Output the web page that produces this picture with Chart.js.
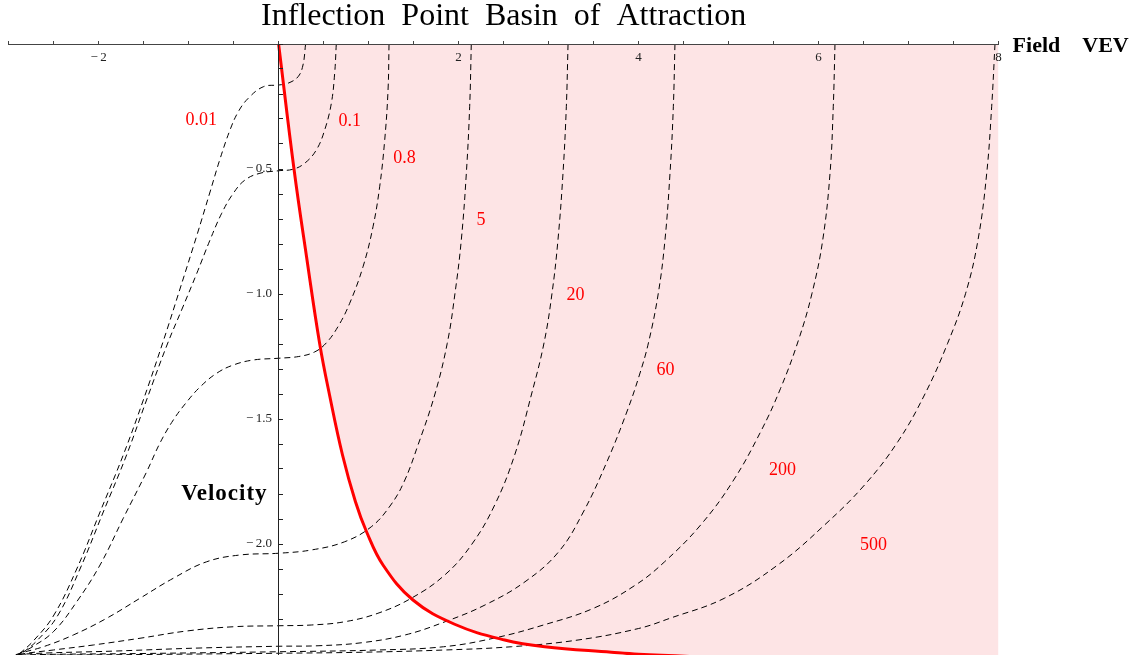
<!DOCTYPE html>
<html lang="en">
<head>
<meta charset="UTF-8">
<title>Inflection Point Basin of Attraction</title>
<script src="https://cdn.jsdelivr.net/npm/chart.js"></script>
<style>
  html, body { margin: 0; padding: 0; background: #fff; }
  .plot { width: 1130px; height: 655px; position: relative; }
</style>
</head>
<body>
<div class="plot"><canvas id="basin"></canvas></div>
<script>
// axis ranges
const fieldMin = -3, fieldMax = 8;
const velMin = -2.444, velMax = 0;

// basin boundary (red curve)
const boundaryField = [0, 0.171, 0.31, 0.457, 0.566, 0.71, 0.854, 0.977, 1.16, 1.493, 1.956, 2.512, 2.957, 3.697, 4.0, 4.6, 5.5, 8];
const boundaryVel   = [0, -0.5, -0.85, -1.2, -1.404, -1.644, -1.831, -1.951, -2.084, -2.224, -2.321, -2.384, -2.411, -2.433, -2.441, -2.45, -2.46, -2.47];

// trajectories
const field001 = [0.30, 0.271, 0.216, 0.104, 0, -0.17, -0.337, -0.448, -0.54, -0.651, -0.762, -0.907, -1.096, -1.281, -1.503, -1.726, -1.984, -2.243, -2.503, -2.726, -2.873, -2.962];
const vel001   = [0, -0.084, -0.131, -0.157, -0.164, -0.171, -0.217, -0.271, -0.344, -0.46, -0.592, -0.764, -0.98, -1.188, -1.424, -1.644, -1.872, -2.1, -2.288, -2.388, -2.437, -2.464];

const field01 = [0.641, 0.623, 0.586, 0.512, 0.419, 0.29, 0.16, 0, -0.207, -0.373, -0.503, -0.632, -0.762, -0.912, -1.073, -1.24, -1.467, -1.689, -1.948, -2.207, -2.457, -2.688, -2.851, -2.951];
const vel01   = [0, -0.117, -0.237, -0.344, -0.424, -0.477, -0.501, -0.507, -0.517, -0.544, -0.597, -0.677, -0.784, -0.92, -1.06, -1.204, -1.424, -1.644, -1.872, -2.1, -2.288, -2.388, -2.437, -2.464];

const field08 = [1.227, 1.216, 1.179, 1.123, 1.049, 0.938, 0.79, 0.664, 0.529, 0.399, 0.224, 0, -0.281, -0.503, -0.688, -0.873, -1.021, -1.17, -1.318, -1.466, -1.726, -1.984, -2.243, -2.503, -2.762, -2.873, -2.962];
const vel08   = [0, -0.184, -0.384, -0.571, -0.731, -0.891, -1.037, -1.128, -1.196, -1.232, -1.25, -1.257, -1.264, -1.284, -1.317, -1.372, -1.432, -1.504, -1.596, -1.711, -1.897, -2.084, -2.231, -2.351, -2.417, -2.437, -2.464];

const field5 = [2.141, 2.123, 2.086, 2.03, 1.96, 1.874, 1.734, 1.549, 1.393, 1.238, 1.03, 0.734, 0.363, 0, -0.429, -0.799, -1.17, -1.54, -1.91, -2.281, -2.614, -2.873, -2.984];
const vel5   = [0, -0.251, -0.517, -0.784, -0.997, -1.197, -1.404, -1.604, -1.752, -1.848, -1.931, -1.991, -2.024, -2.037, -2.044, -2.071, -2.137, -2.217, -2.297, -2.364, -2.411, -2.437, -2.452];

const field20 = [3.216, 3.197, 3.16, 3.104, 3.038, 2.949, 2.808, 2.623, 2.401, 2.141, 1.846, 1.474, 1.104, 0.734, 0.363, 0, -0.503, -1.021, -1.54, -2.059, -2.503, -2.873, -2.984];
const vel20   = [0, -0.251, -0.517, -0.784, -0.997, -1.196, -1.404, -1.644, -1.844, -2.004, -2.124, -2.217, -2.277, -2.311, -2.324, -2.327, -2.331, -2.348, -2.377, -2.404, -2.424, -2.441, -2.452];

const field60 = [4.404, 4.386, 4.349, 4.293, 4.219, 4.109, 4.009, 3.869, 3.647, 3.386, 3.112, 2.738, 2.293, 1.849, 1.404, 0.921, 0.438, 0, -0.873, -1.799, -2.873, -2.984];
const vel60   = [0, -0.251, -0.517, -0.784, -0.997, -1.196, -1.324, -1.472, -1.672, -1.872, -2.031, -2.151, -2.244, -2.311, -2.364, -2.395, -2.407, -2.409, -2.416, -2.428, -2.441, -2.452];

const field200 = [6.182, 6.163, 6.127, 6.046, 5.927, 5.777, 5.578, 5.356, 5.044, 4.689, 4.289, 3.966, 3.5, 2.943, 2.388, 1.832, 1.104, 0, -1.507, -2.873, -2.984];
const vel200   = [0, -0.251, -0.517, -0.784, -0.997, -1.184, -1.377, -1.551, -1.751, -1.924, -2.071, -2.164, -2.257, -2.324, -2.377, -2.411, -2.424, -2.431, -2.438, -2.444, -2.452];

const field500 = [7.96, 7.923, 7.868, 7.771, 7.634, 7.434, 7.176, 6.88, 6.51, 6.066, 5.546, 4.953, 4.349, 4.0, 3.327, 2.586, 1.846, 0.919, 0, -1.507, -2.873, -2.984];
const vel500   = [0, -0.251, -0.517, -0.784, -0.997, -1.197, -1.404, -1.591, -1.764, -1.924, -2.084, -2.217, -2.297, -2.338, -2.384, -2.411, -2.424, -2.433, -2.437, -2.442, -2.446, -2.452];

// red labels next to each trajectory
const curveLabels = ['0.01', '0.1', '0.8', '5', '20', '60', '200', '500'];
const labelField  = [-0.86, 0.79, 1.40, 2.25, 3.30, 4.30, 5.60, 6.61];
const labelVel    = [-0.307, -0.308, -0.456, -0.707, -1.004, -1.306, -1.706, -2.006];

const serif = '"Liberation Serif", "Times New Roman", serif';

function toPoints(xs, ys) {
    return xs.map((x, i) => ({ x: x, y: ys[i] }));
}

function minusLabel(v) {
    return v < 0 ? '\u2212\u2009' + Math.abs(v) : String(v);
}

const trajectories = [
    [field001, vel001], [field01, vel01], [field08, vel08], [field5, vel5],
    [field20, vel20], [field60, vel60], [field200, vel200], [field500, vel500]
];

const datasets = [{
    // red boundary, drawn on top
    data: toPoints(boundaryField, boundaryVel),
    borderColor: '#ff0000',
    borderWidth: 3,
    tension: 0.4,
    fill: false,
    clip: 0
}];

trajectories.forEach(t => {
    datasets.push({
        data: toPoints(t[0], t[1]),
        borderColor: '#000',
        borderWidth: 1,
        borderDash: [6, 4],
        tension: 0.4,
        fill: false,
        clip: 0
    });
});

// pink basin, drawn first
datasets.push({
    data: toPoints(boundaryField, boundaryVel),
    borderWidth: 0,
    borderColor: 'rgba(0,0,0,0)',
    backgroundColor: 'rgb(253, 228, 229)',
    tension: 0.4,
    fill: 'end',
    clip: 0
});

const textLayer = {
    id: 'textLayer',
    afterDatasetsDraw(chart) {
        const ctx = chart.ctx;
        const sx = chart.scales.x, sy = chart.scales.y;
        ctx.save();
        ctx.textBaseline = 'middle';
        ctx.textAlign = 'center';
        ctx.fillStyle = '#ff0000';
        ctx.font = '18px ' + serif;
        curveLabels.forEach((t, i) => {
            ctx.fillText(t, sx.getPixelForValue(labelField[i]), sy.getPixelForValue(labelVel[i]));
        });
        ctx.fillStyle = '#000';
        ctx.font = 'bold 22px ' + serif;
        ctx.textAlign = 'left';
        ctx.fillText('Field\u2003VEV', sx.getPixelForValue(fieldMax) + 14, sy.getPixelForValue(0) + 2);
        ctx.textAlign = 'right';
        ctx.font = 'bold 23px ' + serif;
        ctx.letterSpacing = '1px';
        ctx.fillText('Velocity', sx.getPixelForValue(0) - 11, sy.getPixelForValue(-1.8));
        ctx.restore();
    }
};

const noPad = s => { s.paddingTop = 0; s.paddingBottom = 0; s.paddingLeft = 0; s.paddingRight = 0; };

new Chart(document.getElementById('basin'), {
    type: 'line',
    data: { datasets: datasets },
    options: {
        responsive: true,
        maintainAspectRatio: false,
        animation: false,
        events: [],
        elements: { point: { radius: 0 } },
        layout: { padding: { left: 8.6, right: 131.4, top: 0, bottom: 0 } },
        scales: {
            x: {
                type: 'linear',
                min: fieldMin,
                max: fieldMax,
                position: { y: 0 },
                afterFit: noPad,
                border: { color: '#444', width: 1, z: 1 },
                grid: { drawOnChartArea: false, drawTicks: true, tickLength: -4, tickColor: '#444', z: 1 },
                ticks: {
                    stepSize: 0.5,
                    autoSkip: false,
                    maxRotation: 0,
                    padding: 10,
                    color: '#222',
                    font: { family: serif, size: 13 },
                    z: 1,
                    callback: v => {
                        const r = Math.round(v);
                        if (Math.abs(v - r) > 1e-6 || r === 0 || r % 2 !== 0) return '';
                        return minusLabel(r);
                    }
                }
            },
            y: {
                type: 'linear',
                min: velMin,
                max: velMax,
                position: { x: 0 },
                afterFit: noPad,
                border: { color: '#222', width: 1, z: 1 },
                grid: { drawOnChartArea: false, drawTicks: true, tickLength: -5, tickColor: '#222', z: 1 },
                ticks: {
                    stepSize: 0.1,
                    autoSkip: false,
                    padding: 5,
                    color: '#222',
                    font: { family: serif, size: 13 },
                    z: 1,
                    callback: v => {
                        const h = Math.round(v * 2);
                        if (Math.abs(v * 2 - h) > 1e-6 || h === 0) return '';
                        return '\u2212\u2009' + Math.abs(h / 2).toFixed(1) + '\u2002';
                    }
                }
            }
        },
        plugins: {
            legend: { display: false },
            tooltip: { enabled: false },
            title: {
                display: true,
                fullSize: false,
                text: 'Inflection  Point  Basin  of  Attraction',
                color: '#000',
                font: { family: serif, size: 32, weight: 'normal', lineHeight: 1 },
                padding: { top: 1, bottom: 11 }
            }
        }
    },
    plugins: [textLayer]
});
</script>
</body>
</html>
